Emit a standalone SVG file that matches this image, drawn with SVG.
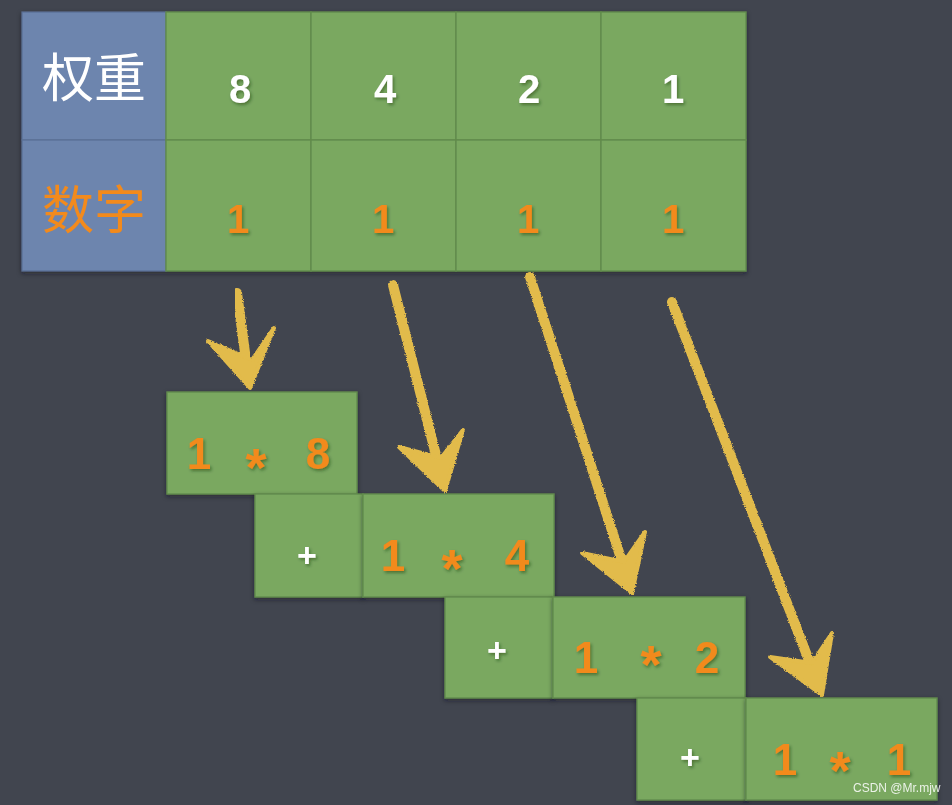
<svg xmlns="http://www.w3.org/2000/svg" width="952" height="805" viewBox="0 0 952 805">
<defs>
<filter id="chalk" x="-10%" y="-10%" width="120%" height="120%">
<feTurbulence type="fractalNoise" baseFrequency="0.9" numOctaves="2" seed="3" result="n"/>
<feDisplacementMap in="SourceGraphic" in2="n" scale="3" xChannelSelector="R" yChannelSelector="G"/>
</filter>
<filter id="shadow" x="-10%" y="-10%" width="130%" height="130%">
<feDropShadow dx="1.5" dy="2" stdDeviation="1.5" flood-color="#1e3010" flood-opacity="0.45"/>
</filter>
<filter id="boxsh" x="-5%" y="-5%" width="110%" height="115%">
<feDropShadow dx="0" dy="2" stdDeviation="2" flood-color="#15181d" flood-opacity="0.5"/>
</filter>
</defs>
<style>
.bg{fill:#41454f}
.blue{fill:#6d85ae;stroke:#5a6f94;stroke-width:1.2}
.green{fill:#7aa861;stroke:#628c4c;stroke-width:1.4}
.w{fill:#ffffff;font-family:"Liberation Sans","Noto Sans CJK SC",sans-serif;text-anchor:middle;filter:url(#shadow)}
.o{fill:#f28a1c;font-family:"Liberation Sans","Noto Sans CJK SC",sans-serif;text-anchor:middle;filter:url(#shadow)}
.cn{font-family:"Noto Sans CJK SC","Noto Sans",sans-serif;font-size:52px;font-weight:400;text-anchor:middle}
.num{font-size:40px;font-weight:bold}
.big{font-size:44px;font-weight:bold}
.star{font-size:54px;font-weight:bold}
.plus{font-size:34px;font-weight:bold}
.arrow{fill:none;stroke:#e2bb4b;stroke-linecap:round;stroke-linejoin:round;filter:url(#chalk)}
.head{fill:#e2bb4b;stroke:#e2bb4b;stroke-width:4;stroke-linejoin:round;filter:url(#chalk)}
.wm{fill:#ffffff;fill-opacity:0.85;font-family:"Liberation Sans",sans-serif;font-size:12px}
</style>
<rect class="bg" x="0" y="0" width="952" height="805"/>

<g id="table" filter="url(#boxsh)">
<g id="label-weight"><rect class="blue" x="22" y="12" width="144" height="128"/><text class="cn" x="94" y="97" fill="#ffffff">权重</text></g>
<g id="label-digit"><rect class="blue" x="22" y="140" width="144" height="131"/><text class="cn" x="94" y="229" fill="#f28a1c">数字</text></g>
<g id="w8"><rect class="green" x="166" y="12" width="145" height="128"/><text class="w num" x="240" y="103">8</text></g>
<g id="w4"><rect class="green" x="311" y="12" width="145" height="128"/><text class="w num" x="385" y="103">4</text></g>
<g id="w2"><rect class="green" x="456" y="12" width="145" height="128"/><text class="w num" x="529" y="103">2</text></g>
<g id="w1"><rect class="green" x="601" y="12" width="145" height="128"/><text class="w num" x="673" y="103">1</text></g>
<g id="d1"><rect class="green" x="166" y="140" width="145" height="131"/><text class="o num" x="238" y="233">1</text></g>
<g id="d2"><rect class="green" x="311" y="140" width="145" height="131"/><text class="o num" x="383" y="233">1</text></g>
<g id="d3"><rect class="green" x="456" y="140" width="145" height="131"/><text class="o num" x="528" y="233">1</text></g>
<g id="d4"><rect class="green" x="601" y="140" width="145" height="131"/><text class="o num" x="673" y="233">1</text></g>
</g>

<g id="connectors">
<g id="arrow1"><path class="arrow" stroke-width="10" d="M237 293 L248 375"/><path class="head" d="M208 341 L250 388 L274 328 L252 360 Z"/></g>
<g id="arrow2"><path class="arrow" stroke-width="10" d="M393 285 L441 475"/><path class="head" d="M399 447 L445 491 L463 430 L441 458 Z"/></g>
<g id="arrow3"><path class="arrow" stroke-width="10" d="M530 277 L627 577"/><path class="head" d="M582 553 L632 593 L645 532 L624 562 Z"/></g>
<g id="arrow4"><path class="arrow" stroke-width="10" d="M672 302 L816 679"/><path class="head" d="M770 657 L822 695 L832 633 L812 663 Z"/></g>
</g>

<g id="term1" filter="url(#boxsh)"><rect class="green" x="167" y="392" width="190" height="102"/>
<text class="o big" x="199" y="469">1</text><text class="o star" x="256" y="486">*</text><text class="o big" x="318" y="469">8</text></g>

<g id="plus1" filter="url(#boxsh)"><rect class="green" x="255" y="494" width="108" height="103"/><text class="w plus" x="307" y="567">+</text></g>
<g id="term2" filter="url(#boxsh)"><rect class="green" x="363" y="494" width="191" height="103"/>
<text class="o big" x="393" y="571">1</text><text class="o star" x="452" y="587">*</text><text class="o big" x="517" y="571">4</text></g>

<g id="plus2" filter="url(#boxsh)"><rect class="green" x="445" y="597" width="108" height="101"/><text class="w plus" x="497" y="662">+</text></g>
<g id="term3" filter="url(#boxsh)"><rect class="green" x="553" y="597" width="192" height="101"/>
<text class="o big" x="586" y="673">1</text><text class="o star" x="651" y="683">*</text><text class="o big" x="707" y="673">2</text></g>

<g id="plus3" filter="url(#boxsh)"><rect class="green" x="637" y="698" width="109" height="102"/><text class="w plus" x="690" y="769">+</text></g>
<g id="term4" filter="url(#boxsh)"><rect class="green" x="746" y="698" width="191" height="102"/>
<text class="o big" x="785" y="775">1</text><text class="o star" x="840" y="789">*</text><text class="o big" x="899" y="775">1</text></g>

<text class="wm" x="853" y="792">CSDN @Mr.mjw</text>
</svg>
